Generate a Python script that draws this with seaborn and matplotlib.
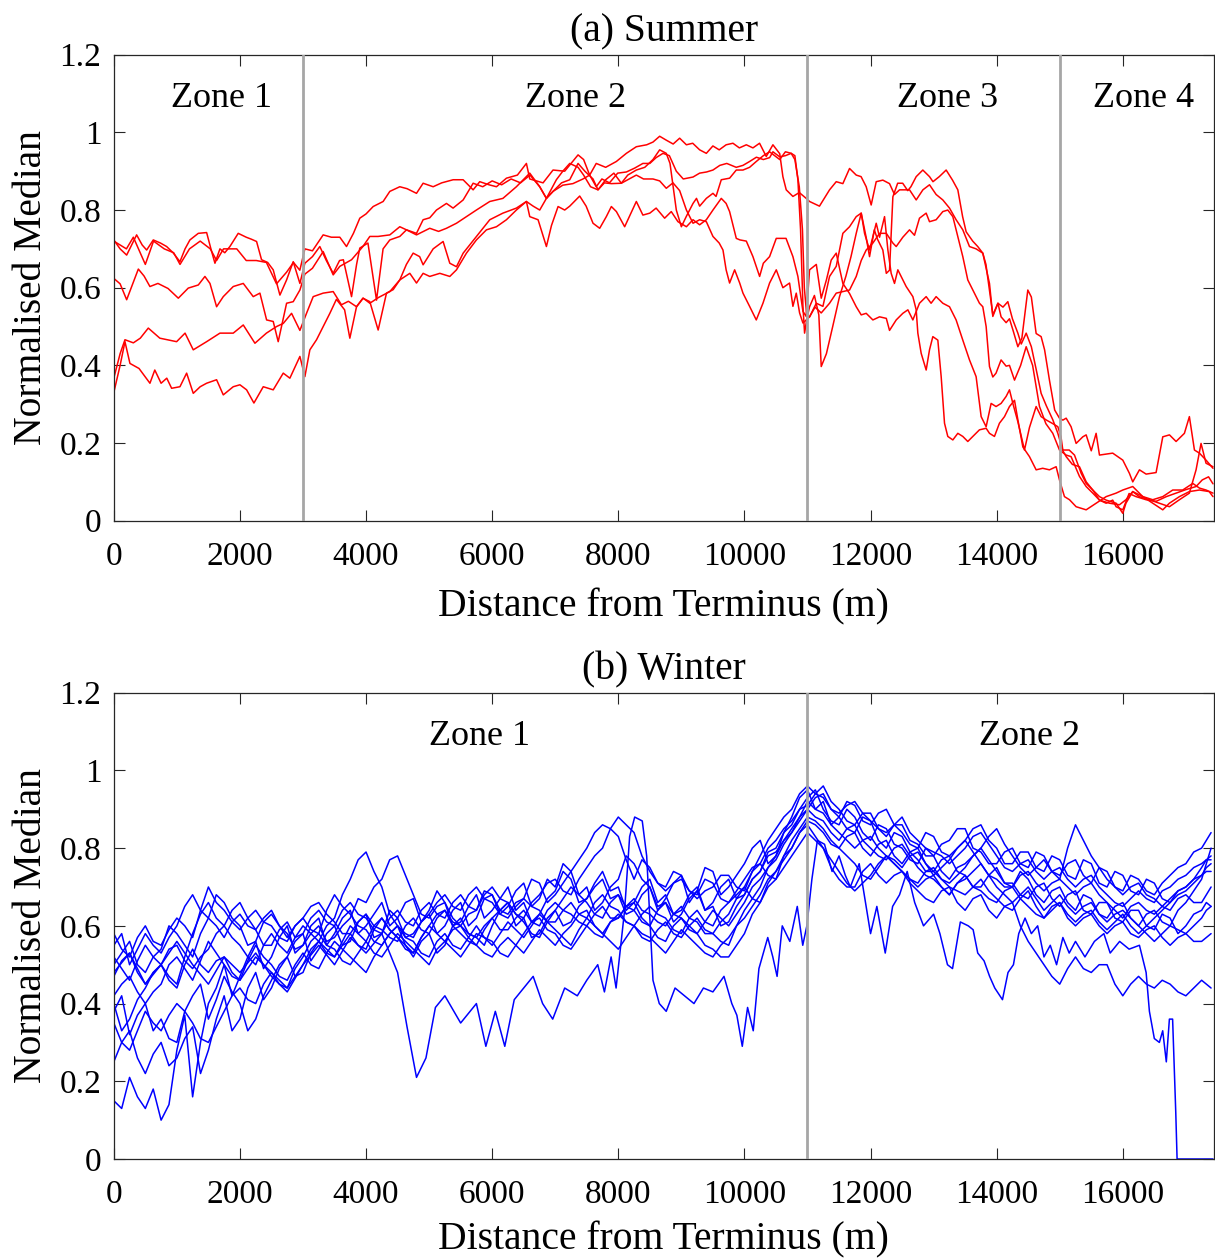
import matplotlib
matplotlib.use("Agg")
import matplotlib.pyplot as plt
import pandas as pd
import seaborn as sns

# ---------------- axis / label data ----------------
x_ticks = [0, 2000, 4000, 6000, 8000, 10000, 12000, 14000, 16000]
x_tick_labels = ["0", "2000", "4000", "6000", "8000", "10000", "12000", "14000", "16000"]
y_ticks = [0, 0.2, 0.4, 0.6, 0.8, 1.0, 1.2]
y_tick_labels = ["0", "0.2", "0.4", "0.6", "0.8", "1", "1.2"]

summer_zone_bounds = [3000, 11000, 15000]
summer_zone_names = ["Zone 1", "Zone 2", "Zone 3", "Zone 4"]
summer_zone_label_x = [1700, 7330, 13220, 16330]
winter_zone_bounds = [11000]
winter_zone_names = ["Zone 1", "Zone 2"]
winter_zone_label_x = [5800, 14520]

# ---------------- summer profiles (distance m, normalised median) ----------------
summer_1 = [(0,0.72),(200,0.70),(310,0.73),(500,0.66),(630,0.72),(800,0.70),(950,0.69),(1050,0.66),(1200,0.70),(1370,0.72),
    (1530,0.70),(1630,0.67),(1740,0.70),(1950,0.70),(2100,0.67),(2260,0.67),(2420,0.665),(2580,0.61),(2740,0.64),(2850,0.665),(2950,0.645),
    (3030,0.70),(3150,0.695),(3320,0.736),(3450,0.73),(3584,0.73),(3690,0.706),(3800,0.74),(3901,0.779),(4000,0.79),(4113,0.809),
    (4271,0.822),(4377,0.848),(4535,0.86),(4650,0.855),(4800,0.843),(4905,0.869),(5064,0.86),(5200,0.87),(5381,0.878),(5539,0.878),
    (5698,0.852),(5803,0.873),(5950,0.865),(6068,0.86),(6226,0.882),(6400,0.89),(6543,0.92),(6596,0.88),(6807,0.87),(6965,0.903),
    (7150,0.90),(7362,0.942),(7450,0.93),(7546,0.89),(7650,0.92),(7800,0.91),(7969,0.925),(8128,0.946),(8286,0.963),(8450,0.968),
    (8550,0.975),(8656,0.99),(8760,0.98),(8870,0.97),(8973,0.985),(9080,0.968),(9180,0.972),(9290,0.955),(9396,0.946),(9500,0.965),
    (9600,0.955),(9710,0.968),(9818,0.972),(9920,0.96),(10030,0.968),(10135,0.96),(10240,0.972),(10346,0.938),(10452,0.968),(10560,0.945),
    (10610,0.886),(10663,0.852),(10769,0.835),(10870,0.845),(10980,0.83),
    (11033,0.822),(11190,0.81),(11350,0.852),(11456,0.873),(11561,0.868),(11667,0.907),(11773,0.89),(11850,0.886),(11931,0.86),(12010,0.813),
    (12090,0.873),(12195,0.877),(12301,0.868),(12380,0.84),(12460,0.852),(12618,0.852),(12724,0.826),(12830,0.852),(12935,0.865),(13040,0.84),
    (13146,0.826),(13252,0.805),(13357,0.775),(13463,0.749),(13569,0.706),(13674,0.70),(13780,0.689),(13886,0.611),(13939,0.526),(14020,0.56),
    (14100,0.55),(14177,0.564),(14250,0.52),(14336,0.483),(14390,0.455),(14468,0.483),(14550,0.448),(14626,0.39),(14705,0.328),(14790,0.295),
    (14890,0.26),(14970,0.225),(15050,0.18),(15102,0.165),(15200,0.145),(15313,0.139),(15420,0.10),(15524,0.079),(15630,0.053),(15736,0.045),
    (15840,0.053),(15894,0.036),(16000,0.028),(16100,0.07),(16210,0.062),(16370,0.054),(16530,0.05),(16690,0.062),(16845,0.071),(17000,0.08),
    (17162,0.088),(17260,0.105),(17360,0.113),(17430,0.095)]

summer_2 = [(0,0.723),(100,0.70),(204,0.684),(362,0.736),(450,0.71),(521,0.697),(626,0.723),(740,0.715),(838,0.706),(940,0.69),
    (1049,0.667),(1130,0.70),(1207,0.723),(1340,0.74),(1472,0.742),(1540,0.70),(1604,0.663),(1683,0.70),(1760,0.69),(1841,0.706),
    (1973,0.74),(2100,0.73),(2180,0.725),(2264,0.719),(2343,0.672),(2440,0.665),(2528,0.646),(2634,0.581),(2740,0.62),(2845,0.667),(2951,0.611),
    (3030,0.663),(3150,0.68),(3267,0.706),(3370,0.67),(3479,0.637),(3580,0.67),(3640,0.672),(3770,0.577),(3850,0.66),(3901,0.702),
    (4030,0.715),(4100,0.64),(4166,0.568),(4270,0.70),(4377,0.723),(4535,0.732),(4641,0.749),(4800,0.74),(4905,0.775),(5010,0.78),
    (5117,0.80),(5275,0.817),(5380,0.805),(5540,0.826),(5698,0.869),(5850,0.86),(6000,0.875),(6150,0.865),(6300,0.88),(6450,0.87),
    (6600,0.89),(6754,0.86),(6860,0.83),(6965,0.848),(7120,0.864),(7280,0.868),(7440,0.88),(7546,0.89),(7650,0.86),(7740,0.88),
    (7860,0.87),(7990,0.895),(8128,0.898),(8260,0.908),(8390,0.92),(8500,0.92),(8600,0.935),(8709,0.946),(8810,0.94),(8920,0.90),
    (9030,0.88),(9185,0.885),(9290,0.895),(9400,0.898),(9501,0.903),(9610,0.915),(9720,0.92),(9870,0.91),(9977,0.915),(10082,0.925),
    (10190,0.936),(10300,0.93),(10400,0.935),(10452,0.95),(10560,0.937),(10650,0.94),(10742,0.946),(10800,0.94),(10848,0.878),(10890,0.75),
    (10928,0.552),(10954,0.483),(10990,0.52),
    (11033,0.551),(11110,0.58),(11180,0.53),(11218,0.397),(11300,0.43),(11400,0.50),(11508,0.577),(11610,0.63),(11690,0.68),(11773,0.74),
    (11852,0.792),(11930,0.73),(11984,0.68),(12060,0.749),(12110,0.725),(12195,0.697),(12250,0.637),(12301,0.645),(12354,0.834),(12430,0.869),
    (12510,0.869),(12590,0.85),(12640,0.86),(12724,0.886),(12829,0.903),(12935,0.886),(12990,0.873),(13090,0.886),(13199,0.903),(13300,0.877),
    (13384,0.852),(13460,0.783),(13516,0.744),(13620,0.72),(13700,0.706),(13780,0.689),(13830,0.66),(13886,0.594),(13939,0.53),(14020,0.56),
    (14070,0.525),(14150,0.51),(14203,0.52),(14260,0.49),(14336,0.448),(14400,0.47),(14494,0.594),(14550,0.576),(14626,0.482),(14705,0.474),
    (14760,0.44),(14837,0.362),(14920,0.285),(14996,0.264),(15049,0.259),(15102,0.264),(15180,0.242),(15260,0.199),(15366,0.216),(15419,0.221),
    (15500,0.18),(15577,0.225),(15630,0.169),(15840,0.174),(16000,0.156),(16105,0.122),(16158,0.10),(16264,0.131),(16370,0.12),(16528,0.124),
    (16634,0.216),(16740,0.221),(16845,0.204),(16977,0.225),(17056,0.268),(17136,0.182),(17215,0.174),(17320,0.156),(17430,0.135)]

summer_3 = [(0,0.624),(100,0.61),(204,0.569),(300,0.61),(389,0.648),(480,0.63),(573,0.603),(700,0.611),(860,0.598),(1023,0.573),
    (1181,0.599),(1340,0.607),(1445,0.629),(1525,0.611),(1630,0.551),(1736,0.577),(1894,0.603),(2053,0.611),(2211,0.577),(2317,0.586),
    (2423,0.517),(2528,0.513),(2607,0.461),(2740,0.56),(2845,0.564),(2951,0.594),
    (3030,0.635),(3150,0.65),(3320,0.693),(3479,0.633),(3584,0.655),(3770,0.672),(3950,0.706),(4060,0.732),(4190,0.732),(4377,0.736),
    (4535,0.757),(4641,0.749),(4800,0.736),(5010,0.753),(5150,0.745),(5275,0.753),(5434,0.766),(5592,0.783),(5750,0.80),(5962,0.822),
    (6170,0.83),(6384,0.86),(6596,0.895),(6754,0.86),(6860,0.83),(7018,0.878),(7120,0.90),(7230,0.92),(7362,0.91),(7450,0.89),
    (7560,0.86),(7678,0.852),(7800,0.878),(7930,0.895),(8048,0.869),(8150,0.89),(8286,0.903),(8420,0.91),(8550,0.93),(8656,0.955),
    (8761,0.946),(8820,0.92),(8870,0.86),(8920,0.80),(9000,0.757),(9080,0.784),(9185,0.817),(9240,0.83),(9290,0.81),(9396,0.83),
    (9501,0.843),(9550,0.835),(9633,0.878),(9765,0.882),(9871,0.903),(9977,0.903),(10082,0.91),(10188,0.925),(10300,0.94),(10399,0.95),
    (10480,0.94),(10560,0.93),(10650,0.95),(10742,0.946),(10800,0.93),(10870,0.86),(10920,0.75),(10950,0.60),(10990,0.526),
    (11033,0.525),(11120,0.55),(11218,0.535),(11350,0.56),(11456,0.586),(11561,0.59),(11667,0.594),(11773,0.629),(11852,0.67),(11931,0.697),
    (12037,0.715),(12143,0.74),(12250,0.74),(12354,0.715),(12407,0.706),(12512,0.73),(12618,0.749),(12697,0.735),(12776,0.779),(12882,0.792),
    (12935,0.77),(13040,0.775),(13146,0.796),(13225,0.80),(13305,0.783),(13357,0.749),(13463,0.68),(13542,0.62),(13622,0.594),(13727,0.56),
    (13780,0.551),(13833,0.50),(13886,0.397),(13939,0.37),(13990,0.38),(14070,0.414),(14150,0.398),(14203,0.40),(14283,0.362),(14380,0.40),
    (14468,0.448),(14570,0.40),(14679,0.294),(14780,0.25),(14890,0.225),(14996,0.182),(15102,0.169),(15180,0.165),(15313,0.114),(15419,0.088),
    (15524,0.071),(15630,0.053),(15790,0.045),(15947,0.041),(16050,0.054),(16158,0.075),(16320,0.062),(16475,0.054),(16634,0.062),(16792,0.079),
    (16950,0.079),(17110,0.096),(17215,0.084),(17320,0.079),(17430,0.071)]

summer_4 = [(0,0.33),(100,0.40),(177,0.461),(256,0.405),(400,0.392),(573,0.354),(650,0.388),(750,0.354),(840,0.367),(917,0.341),
    (1049,0.345),(1155,0.38),(1260,0.328),(1370,0.345),(1472,0.354),(1630,0.363),(1736,0.324),(1894,0.345),(2000,0.35),(2106,0.337),
    (2222,0.303),(2370,0.345),(2528,0.337),(2687,0.38),(2792,0.367),(2951,0.423),
    (3030,0.371),(3109,0.44),(3215,0.466),(3320,0.50),(3426,0.534),(3530,0.57),(3660,0.543),(3743,0.47),(3849,0.551),(3950,0.573),
    (4060,0.564),(4192,0.491),(4324,0.586),(4430,0.595),(4535,0.62),(4694,0.637),(4800,0.612),(4905,0.637),(5010,0.629),(5170,0.637),
    (5328,0.629),(5434,0.646),(5592,0.689),(5750,0.723),(5909,0.749),(6068,0.757),(6226,0.775),(6384,0.80),(6543,0.822),(6596,0.783),
    (6728,0.775),(6860,0.706),(6940,0.76),(7045,0.809),(7150,0.80),(7230,0.81),(7388,0.836),(7490,0.81),(7599,0.766),(7705,0.753),
    (7810,0.783),(7890,0.809),(7970,0.796),(8101,0.757),(8200,0.792),(8286,0.822),(8390,0.787),(8500,0.792),(8600,0.805),(8735,0.779),
    (8840,0.796),(8946,0.77),(9080,0.757),(9185,0.775),(9290,0.762),(9396,0.775),(9501,0.80),(9633,0.83),(9710,0.817),(9765,0.796),
    (9871,0.727),(9930,0.723),(10030,0.72),(10135,0.68),(10241,0.629),(10300,0.663),(10399,0.68),(10505,0.727),(10660,0.727),(10769,0.68),
    (10848,0.629),(10928,0.539),(10980,0.526),
    (11033,0.646),(11140,0.66),(11218,0.573),(11300,0.62),(11376,0.671),(11456,0.689),(11561,0.611),(11667,0.585),(11773,0.551),(11852,0.53),
    (11931,0.534),(12037,0.517),(12143,0.525),(12250,0.521),(12301,0.49),(12407,0.517),(12512,0.534),(12592,0.543),(12671,0.517),(12776,0.56),
    (12882,0.577),(12960,0.56),(13040,0.577),(13146,0.56),(13252,0.551),(13357,0.517),(13463,0.465),(13569,0.414),(13674,0.371),(13754,0.268),
    (13833,0.242),(13912,0.302),(13990,0.294),(14070,0.302),(14150,0.32),(14203,0.337),(14260,0.30),(14336,0.255),(14441,0.182),(14520,0.24),
    (14626,0.294),(14705,0.268),(14790,0.259),(14890,0.25),(14970,0.242),(15020,0.216),(15049,0.182),(15150,0.182),(15234,0.169),(15340,0.122),
    (15419,0.096),(15524,0.079),(15630,0.062),(15736,0.053),(15894,0.045),(16000,0.019),(16050,0.045),(16158,0.075),(16260,0.062),(16420,0.054),
    (16580,0.045),(16739,0.036),(16898,0.054),(17056,0.071),(17162,0.131),(17241,0.199),(17320,0.148),(17430,0.139)]

summer_5 = [(0,0.367),(100,0.43),(177,0.466),(310,0.458),(420,0.47),(547,0.496),(730,0.47),(996,0.461),(1130,0.483),(1260,0.44),
    (1472,0.461),(1683,0.483),(1894,0.483),(2053,0.504),(2238,0.457),(2420,0.483),(2581,0.50),(2687,0.508),(2819,0.534),(2951,0.49),
    (3056,0.534),(3162,0.577),(3320,0.586),(3479,0.59),(3610,0.556),(3720,0.565),(3849,0.551),(3955,0.573),(4060,0.56),(4200,0.575),
    (4377,0.59),(4535,0.62),(4640,0.66),(4747,0.689),(4850,0.68),(4905,0.659),(5064,0.70),(5222,0.719),(5328,0.663),(5434,0.654),
    (5540,0.689),(5750,0.732),(5962,0.775),(6170,0.792),(6384,0.805),(6543,0.822),(6650,0.81),(6754,0.80),(6860,0.83),(6965,0.848),
    (7100,0.87),(7230,0.878),(7362,0.92),(7470,0.90),(7599,0.88),(7678,0.852),(7780,0.87),(7890,0.868),(8048,0.869),(8150,0.878),
    (8286,0.89),(8400,0.88),(8550,0.88),(8656,0.875),(8761,0.856),(8867,0.87),(8973,0.85),(9080,0.80),(9185,0.766),(9290,0.775),
    (9396,0.77),(9501,0.732),(9600,0.715),(9660,0.697),(9710,0.646),(9765,0.612),(9845,0.646),(9925,0.612),(9977,0.586),(10082,0.552),
    (10188,0.517),(10294,0.56),(10399,0.612),(10505,0.646),(10610,0.60),(10716,0.612),(10769,0.552),(10822,0.586),(10875,0.535),(10928,0.509),
    (10980,0.517),
    (11033,0.525),(11140,0.56),(11245,0.552),(11350,0.629),(11456,0.655),(11561,0.74),(11667,0.757),(11773,0.783),(11852,0.792),(11905,0.74),
    (11984,0.697),(12090,0.766),(12143,0.73),(12222,0.783),(12275,0.697),(12327,0.637),(12380,0.611),(12433,0.646),(12512,0.62),(12565,0.603),
    (12671,0.577),(12724,0.543),(12750,0.483),(12803,0.431),(12882,0.388),(12935,0.44),(12988,0.474),(13067,0.465),(13120,0.371),(13173,0.251),
    (13225,0.217),(13305,0.208),(13384,0.225),(13463,0.217),(13542,0.204),(13622,0.217),(13727,0.234),(13833,0.238),(13886,0.225),(13965,0.217),
    (14044,0.251),(14124,0.268),(14203,0.294),(14283,0.31),(14336,0.26),(14415,0.19),(14520,0.165),(14626,0.131),(14730,0.135),(14837,0.131),
    (14943,0.139),(14996,0.105),(15075,0.062),(15155,0.054),(15260,0.036),(15419,0.028),(15577,0.045),(15736,0.062),(15894,0.071),(16000,0.079),
    (16158,0.088),(16317,0.062),(16475,0.045),(16634,0.028),(16739,0.045),(16898,0.062),(17056,0.075),(17215,0.079),(17370,0.075),(17430,0.062)]

# ---------------- winter profiles: sampled every 125 m (0..17250), then 17325 and 17400 m ----------------
winter_dist = list(range(0, 17251, 125)) + [17325, 17400]

winter_1 = [0.15,0.13,0.21,0.16,0.13,0.18,0.10,0.14,0.28,0.37,
            0.16,0.30,0.40,0.44,0.50,0.42,0.47,0.52,0.56,0.49,
            0.52,0.57,0.60,0.53,0.55,0.60,0.62,0.55,0.58,0.62,
            0.64,0.58,0.60,0.63,0.66,0.60,0.62,0.57,0.58,0.61,
            0.64,0.69,0.66,0.60,0.61,0.65,0.68,0.62,0.64,0.67,
            0.70,0.64,0.66,0.61,0.63,0.67,0.69,0.74,0.72,0.66,
            0.67,0.71,0.74,0.69,0.70,0.64,0.66,0.70,0.72,0.66,
            0.68,0.63,0.64,0.68,0.70,0.64,0.66,0.70,0.72,0.67,
            0.68,0.72,0.74,0.79,0.80,0.84,0.86,0.90,0.93,0.95,
            0.90,0.87,0.86,0.90,0.88,0.84,0.82,0.86,0.85,0.81,
            0.80,0.77,0.76,0.80,0.78,0.74,0.72,0.75,0.76,0.78,
            0.80,0.77,0.74,0.71,0.70,0.74,0.72,0.68,0.66,0.69,
            0.70,0.66,0.64,0.68,0.67,0.63,0.62,0.65,0.66,0.62,
            0.60,0.63,0.64,0.61,0.60,0.64,0.66,0.69,0.72,0.76,
            0.80]
winter_2 = [0.25,0.30,0.33,0.26,0.22,0.27,0.30,0.24,0.26,0.31,
            0.34,0.22,0.28,0.36,0.42,0.33,0.36,0.44,0.48,0.41,
            0.44,0.49,0.52,0.56,0.58,0.51,0.54,0.58,0.60,0.55,
            0.56,0.61,0.63,0.57,0.58,0.64,0.62,0.66,0.67,0.61,
            0.63,0.58,0.60,0.64,0.66,0.60,0.62,0.67,0.68,0.63,
            0.65,0.69,0.71,0.65,0.67,0.72,0.70,0.76,0.74,0.68,
            0.70,0.64,0.66,0.70,0.72,0.78,0.76,0.72,0.70,0.64,
            0.67,0.71,0.73,0.66,0.69,0.75,0.74,0.68,0.70,0.73,
            0.76,0.80,0.82,0.76,0.78,0.84,0.88,0.93,0.95,0.90,
            0.92,0.86,0.88,0.92,0.91,0.87,0.86,0.89,0.90,0.86,
            0.84,0.81,0.80,0.84,0.83,0.79,0.78,0.80,0.82,0.85,
            0.86,0.82,0.80,0.76,0.76,0.79,0.79,0.75,0.74,0.78,
            0.77,0.73,0.72,0.77,0.76,0.71,0.70,0.74,0.73,0.69,
            0.68,0.72,0.71,0.67,0.66,0.69,0.70,0.72,0.75,0.77,
            0.78]
winter_3 = [0.38,0.42,0.32,0.37,0.40,0.33,0.36,0.31,0.30,0.38,
            0.42,0.45,0.36,0.41,0.47,0.43,0.40,0.33,0.36,0.42,
            0.46,0.50,0.52,0.47,0.48,0.53,0.56,0.60,0.62,0.68,
            0.72,0.77,0.79,0.74,0.70,0.63,0.60,0.55,0.52,0.56,
            0.58,0.53,0.55,0.60,0.62,0.58,0.57,0.55,0.60,0.64,
            0.66,0.60,0.62,0.57,0.58,0.62,0.64,0.60,0.61,0.65,
            0.67,0.70,0.72,0.67,0.68,0.63,0.64,0.68,0.70,0.65,
            0.66,0.61,0.63,0.67,0.69,0.64,0.65,0.60,0.61,0.65,
            0.68,0.72,0.74,0.78,0.79,0.82,0.84,0.87,0.90,0.93,
            0.94,0.90,0.88,0.85,0.84,0.88,0.87,0.82,0.80,0.84,
            0.83,0.79,0.77,0.74,0.74,0.77,0.78,0.74,0.73,0.70,
            0.70,0.73,0.75,0.71,0.71,0.68,0.67,0.70,0.71,0.67,
            0.65,0.68,0.69,0.64,0.63,0.66,0.66,0.62,0.61,0.64,
            0.64,0.60,0.59,0.63,0.62,0.58,0.60,0.63,0.64,0.66,
            0.65]
winter_4 = [0.50,0.53,0.56,0.50,0.48,0.52,0.54,0.60,0.58,0.55,
            0.52,0.58,0.62,0.68,0.66,0.62,0.60,0.55,0.56,0.61,
            0.63,0.60,0.58,0.54,0.55,0.58,0.60,0.56,0.57,0.60,
            0.62,0.67,0.66,0.70,0.72,0.77,0.78,0.73,0.68,0.63,
            0.62,0.65,0.66,0.62,0.60,0.63,0.64,0.69,0.68,0.64,
            0.63,0.66,0.67,0.72,0.71,0.66,0.68,0.71,0.74,0.77,
            0.80,0.84,0.86,0.85,0.83,0.77,0.72,0.77,0.75,0.71,
            0.70,0.74,0.73,0.69,0.68,0.72,0.71,0.67,0.66,0.69,
            0.72,0.75,0.76,0.80,0.82,0.85,0.87,0.90,0.91,0.94,
            0.96,0.92,0.90,0.87,0.86,0.89,0.89,0.85,0.83,0.86,
            0.86,0.82,0.81,0.78,0.78,0.81,0.82,0.85,0.85,0.80,
            0.79,0.76,0.76,0.79,0.80,0.76,0.75,0.79,0.78,0.74,
            0.73,0.76,0.77,0.73,0.71,0.75,0.74,0.70,0.69,0.73,
            0.72,0.69,0.68,0.71,0.73,0.75,0.76,0.79,0.80,0.82,
            0.84]
winter_5 = [0.55,0.58,0.50,0.54,0.58,0.55,0.53,0.57,0.60,0.65,
            0.68,0.64,0.62,0.60,0.57,0.61,0.63,0.60,0.59,0.55,
            0.55,0.59,0.61,0.57,0.58,0.62,0.64,0.61,0.60,0.64,
            0.66,0.63,0.62,0.59,0.58,0.62,0.64,0.61,0.60,0.64,
            0.66,0.63,0.62,0.66,0.68,0.65,0.64,0.68,0.70,0.67,
            0.66,0.63,0.62,0.66,0.68,0.71,0.72,0.69,0.68,0.72,
            0.75,0.78,0.80,0.85,0.88,0.86,0.84,0.78,0.74,0.71,
            0.69,0.71,0.72,0.69,0.67,0.69,0.70,0.73,0.73,0.70,
            0.69,0.74,0.78,0.82,0.85,0.88,0.90,0.94,0.96,0.94,
            0.93,0.90,0.89,0.91,0.92,0.89,0.87,0.85,0.84,0.86,
            0.88,0.84,0.82,0.80,0.79,0.78,0.76,0.78,0.80,0.83,
            0.84,0.81,0.78,0.75,0.74,0.76,0.77,0.74,0.72,0.74,
            0.75,0.72,0.70,0.72,0.73,0.70,0.68,0.66,0.65,0.67,
            0.69,0.67,0.66,0.69,0.70,0.72,0.73,0.75,0.76,0.77,
            0.77]
winter_6 = [0.58,0.54,0.52,0.57,0.60,0.56,0.55,0.59,0.62,0.60,
            0.57,0.64,0.70,0.66,0.64,0.61,0.59,0.62,0.64,0.61,
            0.60,0.57,0.56,0.60,0.62,0.65,0.66,0.63,0.61,0.58,
            0.58,0.61,0.63,0.60,0.59,0.57,0.56,0.60,0.62,0.59,
            0.58,0.62,0.64,0.61,0.60,0.58,0.57,0.60,0.62,0.59,
            0.59,0.62,0.64,0.61,0.60,0.64,0.66,0.64,0.63,0.61,
            0.60,0.63,0.65,0.62,0.62,0.65,0.67,0.64,0.63,0.61,
            0.60,0.63,0.65,0.62,0.61,0.58,0.58,0.61,0.63,0.67,
            0.70,0.67,0.66,0.71,0.74,0.78,0.80,0.84,0.86,0.83,
            0.80,0.77,0.74,0.71,0.69,0.71,0.73,0.76,0.78,0.76,
            0.74,0.72,0.71,0.74,0.75,0.72,0.70,0.69,0.68,0.70,
            0.72,0.69,0.67,0.65,0.64,0.67,0.69,0.65,0.62,0.64,
            0.66,0.62,0.60,0.62,0.63,0.60,0.58,0.60,0.61,0.58,
            0.57,0.59,0.60,0.57,0.55,0.57,0.58,0.56,0.56,0.57,
            0.58]
winter_7 = [0.47,0.51,0.53,0.48,0.45,0.48,0.50,0.54,0.55,0.51,
            0.49,0.52,0.54,0.58,0.60,0.64,0.66,0.62,0.59,0.62,
            0.64,0.60,0.57,0.60,0.62,0.59,0.58,0.64,0.68,0.65,
            0.63,0.60,0.59,0.56,0.55,0.58,0.60,0.58,0.57,0.61,
            0.63,0.66,0.68,0.65,0.64,0.68,0.70,0.67,0.66,0.63,
            0.62,0.65,0.67,0.65,0.64,0.61,0.61,0.64,0.66,0.63,
            0.62,0.66,0.68,0.65,0.64,0.61,0.60,0.63,0.65,0.63,
            0.62,0.59,0.58,0.62,0.64,0.61,0.60,0.64,0.66,0.68,
            0.70,0.74,0.76,0.73,0.72,0.78,0.82,0.85,0.88,0.87,
            0.85,0.82,0.80,0.83,0.84,0.80,0.78,0.81,0.82,0.78,
            0.76,0.79,0.80,0.76,0.73,0.75,0.77,0.80,0.82,0.79,
            0.76,0.73,0.72,0.70,0.70,0.73,0.74,0.71,0.69,0.71,
            0.72,0.80,0.86,0.82,0.78,0.75,0.72,0.70,0.68,0.70,
            0.71,0.68,0.67,0.65,0.64,0.67,0.68,0.66,0.66,0.68,
            0.70]
winter_8 = [0.42,0.45,0.47,0.43,0.40,0.43,0.45,0.50,0.52,0.49,
            0.46,0.51,0.56,0.53,0.50,0.47,0.46,0.49,0.52,0.50,
            0.48,0.46,0.44,0.47,0.50,0.54,0.56,0.53,0.52,0.56,
            0.60,0.58,0.56,0.53,0.52,0.55,0.58,0.56,0.54,0.52,
            0.50,0.54,0.56,0.59,0.60,0.57,0.55,0.53,0.52,0.55,
            0.57,0.55,0.53,0.56,0.59,0.57,0.55,0.58,0.60,0.63,
            0.64,0.60,0.58,0.61,0.62,0.65,0.66,0.62,0.60,0.57,
            0.56,0.60,0.62,0.60,0.58,0.55,0.54,0.52,0.52,0.55,
            0.58,0.63,0.66,0.70,0.72,0.75,0.78,0.81,0.84,0.82,
            0.80,0.75,0.72,0.70,0.70,0.74,0.76,0.73,0.71,0.73,
            0.74,0.71,0.69,0.67,0.66,0.69,0.70,0.66,0.64,0.67,
            0.68,0.64,0.62,0.65,0.66,0.60,0.56,0.53,0.50,0.47,
            0.45,0.49,0.52,0.49,0.48,0.50,0.50,0.45,0.42,0.45,
            0.47,0.45,0.44,0.46,0.45,0.43,0.42,0.44,0.46,0.45,
            0.44]
winter_9 = [0.40,0.33,0.36,0.41,0.44,0.48,0.50,0.46,0.44,0.50,
            0.54,0.50,0.48,0.51,0.52,0.48,0.46,0.51,0.55,0.52,
            0.50,0.47,0.46,0.50,0.53,0.50,0.49,0.53,0.56,0.54,
            0.52,0.50,0.48,0.52,0.55,0.58,0.60,0.57,0.56,0.53,
            0.52,0.56,0.58,0.55,0.54,0.57,0.60,0.57,0.56,0.53,
            0.52,0.55,0.58,0.61,0.62,0.59,0.58,0.55,0.54,0.57,
            0.60,0.58,0.57,0.61,0.63,0.61,0.60,0.57,0.56,0.59,
            0.61,0.58,0.57,0.60,0.62,0.59,0.58,0.56,0.55,0.60,
            0.64,0.67,0.70,0.75,0.78,0.82,0.85,0.88,0.92,0.90,
            0.89,0.86,0.84,0.82,0.80,0.82,0.83,0.80,0.78,0.77,
            0.75,0.78,0.79,0.76,0.74,0.72,0.71,0.73,0.75,0.78,
            0.80,0.83,0.85,0.81,0.78,0.75,0.73,0.75,0.77,0.74,
            0.72,0.70,0.68,0.70,0.71,0.68,0.66,0.64,0.62,0.65,
            0.66,0.64,0.63,0.65,0.67,0.69,0.70,0.72,0.73,0.74,
            0.74]
winter_10 = [0.52,0.49,0.46,0.51,0.55,0.52,0.50,0.47,0.45,0.52,
             0.58,0.63,0.66,0.62,0.60,0.57,0.55,0.52,0.50,0.55,
             0.58,0.55,0.53,0.57,0.60,0.58,0.56,0.54,0.52,0.55,
             0.58,0.55,0.54,0.59,0.62,0.59,0.57,0.55,0.53,0.57,
             0.60,0.58,0.56,0.54,0.52,0.55,0.58,0.57,0.55,0.58,
             0.61,0.59,0.57,0.60,0.63,0.61,0.59,0.57,0.55,0.59,
             0.62,0.60,0.58,0.56,0.54,0.57,0.60,0.58,0.57,0.55,
             0.53,0.56,0.59,0.57,0.55,0.53,0.52,0.55,0.57,0.60,
             0.62,0.65,0.68,0.72,0.74,0.77,0.80,0.84,0.87,0.86,
             0.84,0.81,0.80,0.78,0.76,0.73,0.72,0.75,0.78,0.76,
             0.74,0.72,0.70,0.72,0.73,0.70,0.68,0.71,0.72,0.74,
             0.76,0.73,0.70,0.68,0.66,0.68,0.70,0.67,0.64,0.66,
             0.68,0.65,0.63,0.65,0.66,0.63,0.61,0.63,0.64,0.62,
             0.60,0.58,0.56,0.58,0.60,0.59,0.58,0.60,0.62,0.64,
             0.65]
winter_11 = [0.35,0.30,0.28,0.33,0.38,0.35,0.33,0.37,0.40,0.38,
             0.35,0.31,0.30,0.34,0.38,0.42,0.44,0.41,0.40,0.45,
             0.48,0.45,0.44,0.49,0.52,0.56,0.58,0.55,0.54,0.51,
             0.50,0.53,0.56,0.60,0.62,0.59,0.57,0.54,0.53,0.57,
             0.60,0.63,0.64,0.60,0.58,0.56,0.55,0.59,0.62,0.64,
             0.66,0.63,0.61,0.58,0.57,0.61,0.64,0.67,0.70,0.68,
             0.66,0.63,0.62,0.66,0.68,0.65,0.64,0.61,0.60,0.64,
             0.66,0.63,0.62,0.59,0.58,0.61,0.64,0.62,0.60,0.63,
             0.66,0.70,0.72,0.75,0.77,0.81,0.84,0.88,0.90,0.88,
             0.87,0.84,0.82,0.85,0.86,0.82,0.80,0.78,0.77,0.80,
             0.81,0.78,0.75,0.73,0.72,0.70,0.68,0.71,0.73,0.70,
             0.69,0.67,0.66,0.69,0.70,0.67,0.65,0.63,0.62,0.65,
             0.66,0.63,0.61,0.63,0.64,0.61,0.59,0.61,0.63,0.60,
             0.58,0.60,0.62,0.64,0.66,0.68,0.69,0.71,0.73,0.75,
             0.76]

# the profile that falls to zero near the top of the glacier
winter_low = [(0,0.48),(250,0.53),(500,0.45),(750,0.50),(1000,0.56),(1250,0.50),(1500,0.45),(1750,0.52),(2000,0.48),(2250,0.53),
    (2500,0.47),(2750,0.43),(3000,0.50),(3250,0.55),(3500,0.50),(3750,0.57),(4000,0.53),(4250,0.58),(4500,0.48),(4650,0.34),
    (4800,0.21),(4950,0.26),(5100,0.39),(5250,0.42),(5500,0.35),(5750,0.40),(5900,0.29),(6050,0.38),(6200,0.29),(6350,0.41),
    (6500,0.44),(6650,0.47),(6800,0.40),(6960,0.36),(7150,0.44),(7350,0.42),(7500,0.46),(7674,0.50),(7780,0.43),(7886,0.52),
    (7965,0.44),(8100,0.64),(8180,0.83),(8260,0.88),(8380,0.87),(8450,0.78),(8550,0.46),(8650,0.40),(8760,0.38),(8900,0.44),
    (9050,0.42),(9200,0.40),(9350,0.44),(9500,0.43),(9676,0.47),(9800,0.40),(9880,0.37),(9966,0.29),(10050,0.39),(10140,0.33),
    (10230,0.49),(10370,0.57),(10450,0.52),(10518,0.47),(10600,0.60),(10720,0.56),(10838,0.65),(10925,0.55),(10990,0.60),(11070,0.72),
    (11157,0.82),(11270,0.81),(11390,0.74),(11500,0.78),(11600,0.73),(11680,0.70),(11820,0.76),(12000,0.58),(12100,0.65),(12233,0.53),
    (12350,0.65),(12460,0.68),(12581,0.74),(12700,0.66),(12840,0.60),(13000,0.63),(13100,0.58),(13220,0.50),(13300,0.49),(13424,0.61),
    (13550,0.60),(13627,0.59),(13700,0.53),(13800,0.51),(13888,0.47),(13970,0.44),(14092,0.41),(14180,0.48),(14266,0.50),(14350,0.58),
    (14450,0.62),(14550,0.58),(14650,0.60),(14750,0.52),(14850,0.55),(14950,0.50),(15050,0.57),(15150,0.53),(15250,0.56),(15400,0.52),
    (15550,0.56),(15700,0.58),(15800,0.53),(15950,0.56),(16100,0.54),(16264,0.55),(16370,0.48),(16422,0.38),(16500,0.31),(16580,0.30),
    (16633,0.33),(16690,0.25),(16739,0.36),(16790,0.36),(16840,0.12),(16861,0.0),(17000,0.0),(17200,0.0),(17430,0.0)]

# ---------------- tidy tables ----------------
summer_profiles = {"S1": summer_1, "S2": summer_2, "S3": summer_3, "S4": summer_4, "S5": summer_5}
rows = []
for name, pts in summer_profiles.items():
    for d, v in pts:
        rows.append((name, d, v))
summer_df = pd.DataFrame(rows, columns=["line", "dist", "value"])

winter_profiles = {"W1": winter_1, "W2": winter_2, "W3": winter_3, "W4": winter_4, "W5": winter_5, "W6": winter_6,
                   "W7": winter_7, "W8": winter_8, "W9": winter_9, "W10": winter_10, "W11": winter_11}
rows = []
for name, vals in winter_profiles.items():
    for d, v in zip(winter_dist, vals):
        rows.append((name, d, v))
for d, v in winter_low:
    rows.append(("W12", d, v))
winter_df = pd.DataFrame(rows, columns=["line", "dist", "value"])

# ---------------- drawing ----------------
sns.set_theme(style="white")
plt.rcParams["font.family"] = ["Liberation Serif", "DejaVu Serif"]
plt.rcParams["text.color"] = "black"
plt.rcParams["axes.labelcolor"] = "black"
plt.rcParams["xtick.color"] = "black"
plt.rcParams["ytick.color"] = "black"

W, H = 1215, 1260
fig = plt.figure(figsize=(W / 100, H / 100), dpi=100)
left = 113.8 / W
width = (1213.6 - 113.8) / W
ax1 = fig.add_axes([left, 1 - 520.7 / H, width, (520.7 - 54.7) / H])
ax2 = fig.add_axes([left, 1 - 1159.0 / H, width, (1159.0 - 692.7) / H])

sns.lineplot(data=summer_df, x="dist", y="value", units="line", estimator=None, sort=False,
             color="#FF0000", linewidth=1.1, ax=ax1, legend=False)
sns.lineplot(data=winter_df, x="dist", y="value", units="line", estimator=None, sort=False,
             color="#0000FF", linewidth=1.1, ax=ax2, legend=False)


def style_axes(ax, title, bounds, names, label_x, xlabel_y):
    ax.set_xlim(0, 17440)
    ax.set_ylim(0, 1.2)
    ax.set_xticks(x_ticks)
    ax.set_xticklabels(x_tick_labels)
    ax.set_yticks(y_ticks)
    ax.set_yticklabels(y_tick_labels)
    ax.tick_params(direction="in", length=8, width=0.8, top=True, right=True, bottom=True, left=True,
                   labelsize=24, color="#262626", labelcolor="black")
    ax.tick_params(axis="x", pad=15)
    ax.tick_params(axis="y", pad=9)
    for s in ax.spines.values():
        s.set_visible(True)
        s.set_color("#262626")
        s.set_linewidth(0.9)
    for b in bounds:
        ax.axvline(b, color="#A6A6A6", linewidth=2.0, zorder=5)
    for nm, xx in zip(names, label_x):
        ax.text(xx, 1.088, nm, ha="center", va="center", fontsize=26, color="black")
    ax.set_xlabel("Distance from Terminus (m)", fontsize=28.5)
    ax.set_ylabel("Normalised Median", fontsize=28.5)
    ax.xaxis.set_label_coords(0.5, xlabel_y)
    ax.xaxis.label.set_va("center")
    ax.yaxis.set_label_coords(-0.075, 0.5)
    ax.yaxis.label.set_va("center")
    ax.set_title(title, fontsize=28.5, y=1.048, pad=0, va="center")


style_axes(ax1, "(a) Summer", summer_zone_bounds, summer_zone_names, summer_zone_label_x, -0.184)
style_axes(ax2, "(b) Winter", winter_zone_bounds, winter_zone_names, winter_zone_label_x, -0.174)

fig.savefig("out.png", dpi=100)
